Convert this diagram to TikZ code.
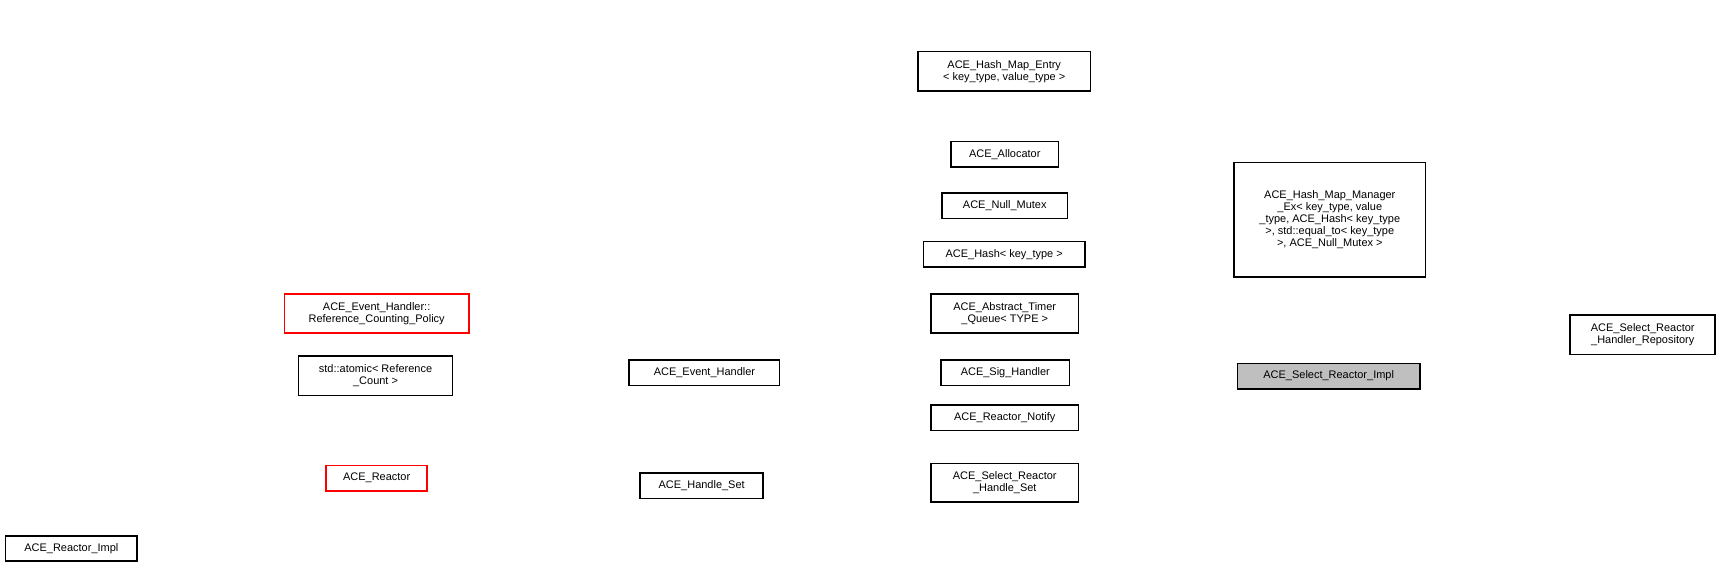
\documentclass[tikz,border=0pt]{standalone}
\usepackage{fontspec}
\setmainfont{Liberation Sans}
\usetikzlibrary{arrows.meta,calc}
\definecolor{dpurple}{HTML}{9A32CD}
\definecolor{dnavy}{HTML}{191970}
\begin{document}
\begin{tikzpicture}[x=0.549pt,y=-0.549pt,
  every node/.style={font=\fontsize{10}{11}\selectfont,scale=0.549},
  box/.style={draw,rectangle,align=center,inner sep=1pt,line width=0.8pt},
  rbox/.style={box,draw=red},
  use/.style={dpurple,dashed,line width=0.5pt,dash pattern=on 2.5pt off 1.5pt,-{Triangle[length=5pt,width=4pt]}},
  inh/.style={dnavy,line width=0.5pt,-{Triangle[length=5pt,width=4pt]}},
  lab/.style={align=center,inner sep=0pt}]
\useasboundingbox (0,0) rectangle (1570,518);
\node[box,minimum width=120pt,minimum height=23pt] (rimpl) at (65,519.5-20) {ACE\_Reactor\_Impl};
\node[rbox,minimum width=92pt,minimum height=23pt] (reactor) at (343,455.5-20) {ACE\_Reactor};
\node[box,minimum width=112pt,minimum height=23pt] (hset) at (639,462.5-20) {ACE\_Handle\_Set};
\node[box,minimum width=134pt,minimum height=35pt] (srhs) at (915,459.5-20) {ACE\_Select\_Reactor\\\_Handle\_Set};
\node[box,minimum width=134pt,minimum height=23pt] (notify) at (915,400.5-20) {ACE\_Reactor\_Notify};
\node[box,minimum width=117pt,minimum height=23pt] (sig) at (915.5,359.5-20) {ACE\_Sig\_Handler};
\node[box,minimum width=134pt,minimum height=35pt] (timer) at (915,305.5-20) {ACE\_Abstract\_Timer\\\_Queue< TYPE >};
\node[box,minimum width=137pt,minimum height=23pt] (eh) at (641.5,359.5-20) {ACE\_Event\_Handler};
\node[box,minimum width=140pt,minimum height=36pt] (atomic) at (342,362-20) {std::atomic< Reference\\\_Count >};
\node[rbox,minimum width=168pt,minimum height=35pt] (rcp) at (343,305.5-20) {ACE\_Event\_Handler::\\Reference\_Counting\_Policy};
\node[box,minimum width=147pt,minimum height=23pt] (hash) at (914.5,251.5-20) {ACE\_Hash< key\_type >};
\node[box,minimum width=114pt,minimum height=23pt] (mutex) at (915,207.5-20) {ACE\_Null\_Mutex};
\node[box,minimum width=98pt,minimum height=23pt] (alloc) at (915,160.5-20) {ACE\_Allocator};
\node[box,minimum width=157pt,minimum height=36pt] (entry) at (914.5,71-6) {ACE\_Hash\_Map\_Entry\\< key\_type, value\_type >};
\node[box,minimum width=174pt,minimum height=104pt] (mgr) at (1211,220-20) {ACE\_Hash\_Map\_Manager\\\_Ex< key\_type, value\\\_type, ACE\_Hash< key\_type\\>, std::equal\_to< key\_type\\>, ACE\_Null\_Mutex >};
\node[box,fill=black!25,minimum width=166pt,minimum height=23pt] (sri) at (1210,362.5-20) {ACE\_Select\_Reactor\_Impl};
\node[box,minimum width=132pt,minimum height=36pt] (repo) at (1496,325-20) {ACE\_Select\_Reactor\\\_Handler\_Repository};
\end{tikzpicture}
\end{document}
